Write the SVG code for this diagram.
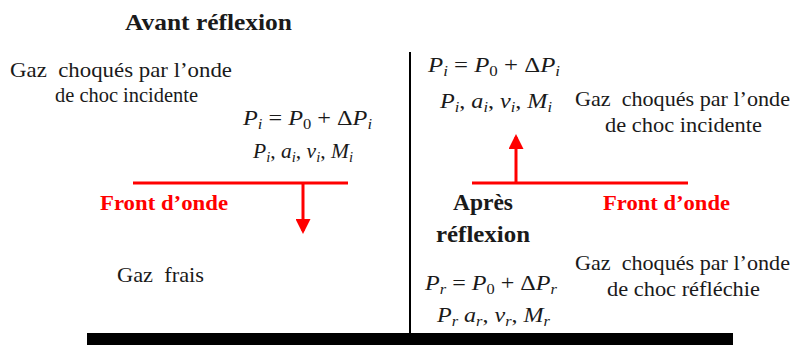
<svg xmlns="http://www.w3.org/2000/svg" width="798" height="345" viewBox="0 0 798 345">
<style>
.t{font-family:"Liberation Serif","Times New Roman",serif;font-size:21px;fill:#1a1a1a;white-space:pre}
.b{font-family:"Liberation Serif","Times New Roman",serif;font-size:24px;font-weight:bold;fill:#1a1a1a}
.r{font-family:"Liberation Serif","Times New Roman",serif;font-size:22px;font-weight:bold;fill:#ff0000}
.m{font-family:"Liberation Serif","Times New Roman",serif;font-size:22px;fill:#1a1a1a;white-space:pre}
.i{font-style:italic}
.s{font-size:15px;font-style:italic}
.s0{font-size:15px}
.red{stroke:#ff0000;stroke-width:3;fill:none}
</style>
<defs>
<marker id="ah" markerWidth="5" markerHeight="5" refX="4" refY="2.5" orient="auto" markerUnits="strokeWidth">
<path d="M0,0 L5,2.5 L0,5 Z" fill="#ff0000"/>
</marker>
</defs>
<rect width="798" height="345" fill="#ffffff"/>
<g id="wall"><rect x="87" y="333" width="646" height="12" fill="#000"/></g>
<g id="divider"><line x1="410" y1="52" x2="410" y2="333" stroke="#000" stroke-width="2"/></g>
<g id="left">
<text class="b" x="125" y="30" textLength="167" lengthAdjust="spacingAndGlyphs">Avant réflexion</text>
<text class="t" x="10" y="77" textLength="222" lengthAdjust="spacingAndGlyphs" xml:space="preserve">Gaz  choqués par l’onde</text>
<text class="t" x="55" y="102" textLength="143" lengthAdjust="spacingAndGlyphs">de choc incidente</text>
<text class="m" x="243" y="125" textLength="129" lengthAdjust="spacingAndGlyphs" xml:space="preserve"><tspan class="i">P</tspan><tspan class="s" dy="4">i</tspan><tspan dy="-4"> = </tspan><tspan class="i">P</tspan><tspan class="s0" dy="4">0</tspan><tspan dy="-4"> + Δ</tspan><tspan class="i">P</tspan><tspan class="s" dy="4">i</tspan></text>
<text class="m" x="253" y="158" textLength="100" lengthAdjust="spacingAndGlyphs" xml:space="preserve"><tspan class="i">P</tspan><tspan class="s" dy="4">i</tspan><tspan dy="-4">, </tspan><tspan class="i">a</tspan><tspan class="s" dy="4">i</tspan><tspan dy="-4">, </tspan><tspan class="i">v</tspan><tspan class="s" dy="4">i</tspan><tspan dy="-4">, </tspan><tspan class="i">M</tspan><tspan class="s" dy="4">i</tspan></text>
<text class="r" x="100" y="210" textLength="128" lengthAdjust="spacingAndGlyphs">Front d’onde</text>
<text class="t" x="117" y="282" textLength="87" lengthAdjust="spacingAndGlyphs" xml:space="preserve">Gaz  frais</text>
</g>
<g id="right">
<text class="m" x="428" y="72" textLength="132" lengthAdjust="spacingAndGlyphs" xml:space="preserve"><tspan class="i">P</tspan><tspan class="s" dy="4">i</tspan><tspan dy="-4"> = </tspan><tspan class="i">P</tspan><tspan class="s0" dy="4">0</tspan><tspan dy="-4"> + Δ</tspan><tspan class="i">P</tspan><tspan class="s" dy="4">i</tspan></text>
<text class="m" x="440" y="108" textLength="112" lengthAdjust="spacingAndGlyphs" xml:space="preserve"><tspan class="i">P</tspan><tspan class="s" dy="4">i</tspan><tspan dy="-4">, </tspan><tspan class="i">a</tspan><tspan class="s" dy="4">i</tspan><tspan dy="-4">, </tspan><tspan class="i">v</tspan><tspan class="s" dy="4">i</tspan><tspan dy="-4">, </tspan><tspan class="i">M</tspan><tspan class="s" dy="4">i</tspan></text>
<text class="t" x="575" y="106" textLength="215" lengthAdjust="spacingAndGlyphs" xml:space="preserve">Gaz  choqués par l’onde</text>
<text class="t" x="605" y="132" textLength="157" lengthAdjust="spacingAndGlyphs">de choc incidente</text>
<text class="b" x="453" y="210" textLength="60" lengthAdjust="spacingAndGlyphs">Après</text>
<text class="b" x="436" y="242" textLength="94" lengthAdjust="spacingAndGlyphs">réflexion</text>
<text class="r" x="603" y="210" textLength="127" lengthAdjust="spacingAndGlyphs">Front d’onde</text>
<text class="t" x="575" y="270" textLength="215" lengthAdjust="spacingAndGlyphs" xml:space="preserve">Gaz  choqués par l’onde</text>
<text class="t" x="607" y="296" textLength="153" lengthAdjust="spacingAndGlyphs">de choc réfléchie</text>
<text class="m" x="425" y="290" textLength="132" lengthAdjust="spacingAndGlyphs" xml:space="preserve"><tspan class="i">P</tspan><tspan class="s" dy="4">r</tspan><tspan dy="-4"> = </tspan><tspan class="i">P</tspan><tspan class="s0" dy="4">0</tspan><tspan dy="-4"> + Δ</tspan><tspan class="i">P</tspan><tspan class="s" dy="4">r</tspan></text>
<text class="m" x="437" y="322" textLength="113" lengthAdjust="spacingAndGlyphs" xml:space="preserve"><tspan class="i">P</tspan><tspan class="s" dy="4">r</tspan><tspan dy="-4"> </tspan><tspan class="i">a</tspan><tspan class="s" dy="4">r</tspan><tspan dy="-4">, </tspan><tspan class="i">v</tspan><tspan class="s" dy="4">r</tspan><tspan dy="-4">, </tspan><tspan class="i">M</tspan><tspan class="s" dy="4">r</tspan></text>
</g>
<g id="connectors">
<line class="red" x1="133" y1="183" x2="348" y2="183"/>
<line class="red" x1="303" y1="183" x2="303" y2="231" marker-end="url(#ah)"/>
<line class="red" x1="472" y1="183" x2="688" y2="183"/>
<line class="red" x1="516" y1="183" x2="516" y2="137" marker-end="url(#ah)"/>
</g>
</svg>
